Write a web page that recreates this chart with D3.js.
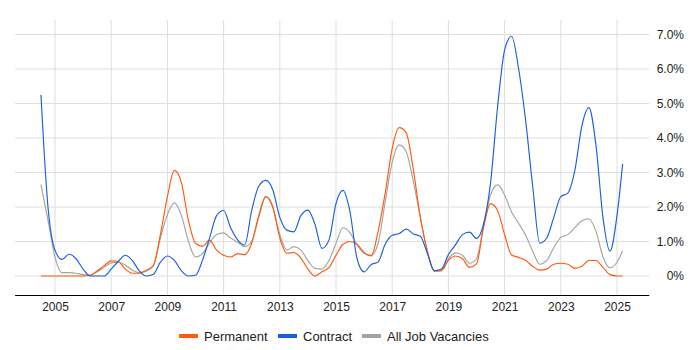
<!DOCTYPE html>
<html>
<head>
<meta charset="utf-8">
<script src="https://cdn.jsdelivr.net/npm/d3@7"></script>
<style>
  html, body { margin: 0; padding: 0; background: #fff; }
  svg { display: block; font-family: "Liberation Sans", Arial, sans-serif; }
</style>
</head>
<body>
<svg id="chart" width="700" height="350"></svg>
<script>
// quarterly sample points (decimal years)
const quarters = [
  2004.5, 2004.75,
  2005.0, 2005.25, 2005.5, 2005.75, 2006.0, 2006.25, 2006.5, 2006.75,
  2007.0, 2007.25, 2007.5, 2007.75, 2008.0, 2008.25, 2008.5, 2008.75,
  2009.0, 2009.25, 2009.5, 2009.75, 2010.0, 2010.25, 2010.5, 2010.75,
  2011.0, 2011.25, 2011.5, 2011.75, 2012.0, 2012.25, 2012.5, 2012.75,
  2013.0, 2013.25, 2013.5, 2013.75, 2014.0, 2014.25, 2014.5, 2014.75,
  2015.0, 2015.25, 2015.5, 2015.75, 2016.0, 2016.25, 2016.5, 2016.75,
  2017.0, 2017.25, 2017.5, 2017.75, 2018.0, 2018.25, 2018.5, 2018.75,
  2019.0, 2019.25, 2019.5, 2019.75, 2020.0, 2020.25, 2020.5, 2020.75,
  2021.0, 2021.25, 2021.5, 2021.75, 2022.0, 2022.25, 2022.5, 2022.75,
  2023.0, 2023.25, 2023.5, 2023.75, 2024.0, 2024.25, 2024.5, 2024.75,
  2025.0, 2025.2
];

// % share of vacancies
const permanent = [
  0, 0,
  0, 0, 0, 0, 0, 0.02, 0.15, 0.3,
  0.44, 0.42, 0.2, 0.08, 0.08, 0.17, 0.3, 1.2,
  2.3, 3.06, 2.7, 1.6, 0.95, 0.86, 1.04, 0.75,
  0.6, 0.55, 0.65, 0.62, 0.95, 1.75, 2.3, 2.0,
  1.1, 0.66, 0.68, 0.52, 0.2, 0.0, 0.12, 0.24,
  0.6, 0.92, 1.0, 0.92, 0.68, 0.58, 1.3, 2.4,
  3.7, 4.3, 4.15, 3.1, 1.71, 0.72, 0.14, 0.15,
  0.45, 0.58, 0.5, 0.25, 0.35, 1.4, 2.1, 1.9,
  1.2, 0.61, 0.54, 0.45, 0.28, 0.17, 0.2, 0.34,
  0.37, 0.34, 0.22, 0.28, 0.45, 0.45, 0.25, 0.04,
  0, 0
];

const contract = [
  5.25, 2.0,
  0.75, 0.48, 0.63, 0.5, 0.2, 0.0, 0.0, 0.0,
  0.2, 0.42, 0.6, 0.45, 0.15, 0.0, 0.05, 0.4,
  0.58, 0.45, 0.15, 0.0, 0.02, 0.46, 1.1, 1.75,
  1.9, 1.4, 1.05, 0.9, 1.9, 2.6, 2.77, 2.5,
  1.7, 1.33, 1.28, 1.75, 1.91, 1.5, 0.8, 1.04,
  2.1, 2.48, 1.85, 0.5, 0.12, 0.33, 0.41, 0.92,
  1.18, 1.23, 1.36, 1.22, 1.15, 0.66, 0.15, 0.2,
  0.62, 0.9, 1.2, 1.27, 1.09, 1.5, 2.7, 4.9,
  6.55, 6.95, 6.0, 4.5, 2.6, 0.95, 1.1, 1.7,
  2.3, 2.4, 3.06, 4.35, 4.88, 3.8, 1.7, 0.72,
  1.75, 3.25
];

const allJobs = [
  2.65, 1.62,
  0.55, 0.1, 0.1, 0.08, 0.04, 0.02, 0.12, 0.25,
  0.38, 0.4, 0.32, 0.17, 0.1, 0.14, 0.3, 1.1,
  1.78, 2.12, 1.75, 1.0, 0.55, 0.65, 0.95, 1.2,
  1.25, 1.1, 0.98, 0.85, 1.0, 1.7, 2.3, 2.0,
  1.2, 0.75, 0.85, 0.75, 0.45, 0.22, 0.2, 0.45,
  0.95, 1.4, 1.25, 0.9, 0.66, 0.6, 0.95, 2.15,
  3.3, 3.8, 3.6, 2.75, 1.71, 0.72, 0.16, 0.18,
  0.5, 0.67, 0.6, 0.37, 0.5, 1.45, 2.35, 2.64,
  2.35, 1.85, 1.53, 1.18, 0.72, 0.34, 0.45, 0.82,
  1.12, 1.2, 1.4, 1.6, 1.66, 1.3, 0.56, 0.24,
  0.4, 0.73
];

const yearTicks = [2005, 2007, 2009, 2011, 2013, 2015, 2017, 2019, 2021, 2023, 2025];
const pctTicks = [0, 1, 2, 3, 4, 5, 6, 7];

const series = [
  { name: "Permanent", values: permanent, color: "#ff5a0a" },
  { name: "Contract", values: contract, color: "#1a5fe0" },
  { name: "All Job Vacancies", values: allJobs, color: "#a3a3a3" },
];

const svg = d3.select("#chart");

const x = d3.scaleLinear().domain([2005, 2025]).range([55, 617]);
const y = d3.scaleLinear().domain([0, 7]).range([276, 34.5]);

const plotLeft = x(2003.58), plotRight = x(2026.15);
const plotTop = 20, plotBottom = 295;

// ---------- grid ----------
const grid = svg.append("g");
grid.selectAll("line.h")
  .data(pctTicks)
  .enter().append("line")
  .attr("x1", plotLeft).attr("x2", plotRight)
  .attr("y1", d => y(d)).attr("y2", d => y(d))
  .attr("stroke", "#dedede").attr("stroke-width", 1);

grid.selectAll("line.v")
  .data(yearTicks)
  .enter().append("line")
  .attr("x1", d => x(d)).attr("x2", d => x(d))
  .attr("y1", plotTop).attr("y2", plotBottom)
  .attr("stroke", "#dedede").attr("stroke-width", 1);

// ---------- axes ----------
const xAxis = svg.append("g")
  .attr("transform", `translate(0,${plotBottom})`)
  .call(d3.axisBottom(x).tickValues(yearTicks).tickFormat(d3.format("d")).tickSize(0).tickPadding(7));
xAxis.select(".domain").remove();
xAxis.selectAll("text").attr("font-size", 12).attr("fill", "#222")
  .attr("font-family", "Liberation Sans, Arial, sans-serif");

svg.append("line")
  .attr("x1", plotLeft).attr("x2", plotRight)
  .attr("y1", plotBottom + 0.5).attr("y2", plotBottom + 0.5)
  .attr("stroke", "#000").attr("stroke-width", 1);

const yAxis = svg.append("g")
  .attr("transform", `translate(684,0)`)
  .call(d3.axisLeft(y).tickValues(pctTicks)
    .tickFormat(d => d === 0 ? "0%" : d3.format(".1f")(d) + "%")
    .tickSize(0).tickPadding(0));
yAxis.select(".domain").remove();
yAxis.selectAll("text").attr("font-size", 12).attr("fill", "#222")
  .attr("font-family", "Liberation Sans, Arial, sans-serif");

// ---------- lines ----------
const line = d3.line()
  .x((d, i) => x(quarters[i]))
  .y(d => y(d))
  .curve(d3.curveMonotoneX);

// draw grey first, then orange, then blue on top
[series[2], series[0], series[1]].forEach(s => {
  svg.append("path")
    .datum(s.values)
    .attr("fill", "none")
    .attr("stroke", s.color)
    .attr("stroke-width", 1.15)
    .attr("d", line);
});

// ---------- legend ----------
const legendX = [179, 278, 362];
const legend = svg.append("g");
series.forEach((s, i) => {
  const gx = legend.append("g").attr("transform", `translate(${legendX[i]},336)`);
  gx.append("rect").attr("x", 0).attr("y", -2).attr("width", 19).attr("height", 4).attr("fill", s.color);
  gx.append("text").attr("x", 25).attr("y", 4.5)
    .attr("font-size", 13).attr("fill", "#222")
    .text(s.name);
});
</script>
</body>
</html>
